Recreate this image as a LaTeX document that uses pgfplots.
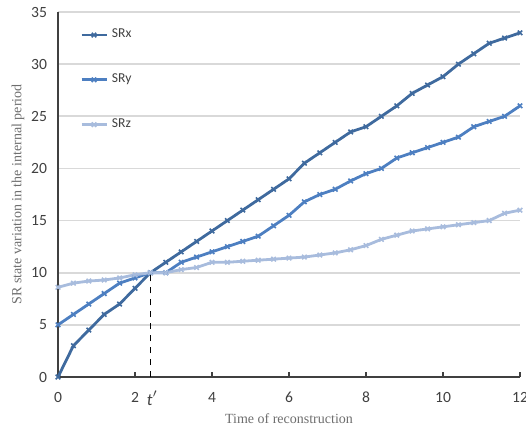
\documentclass[border=0pt]{standalone}
\usepackage{fontspec}
\setmainfont{Liberation Serif}
\newfontfamily\calibri{Carlito}
\usepackage{pgfplots}
\pgfplotsset{compat=1.18}
\definecolor{srx}{HTML}{3F6A9E}
\definecolor{sry}{HTML}{4D7FC1}
\definecolor{srz}{HTML}{A8BCDD}
\definecolor{axisgray}{HTML}{404040}
\definecolor{gridgray}{HTML}{D9D9D9}
\definecolor{labelgray}{HTML}{6E6E6E}
\definecolor{tickgray}{HTML}{404040}
\begin{document}
\begin{tikzpicture}
\begin{axis}[
  name=ax,
  scale only axis,
  width=231bp, height=182.5bp,
  xmin=0, xmax=12, ymin=0, ymax=35,
  xtick={0,2,4,6,8,10,12},
  ytick={0,5,...,35},
  extra x ticks={2.45},
  extra x tick labels={\fontsize{8.5bp}{9bp}\selectfont\textit{t}$'$},
  extra x tick style={major tick length=0pt, grid=none,
    xticklabel style={yshift=0.5bp}},
  axis x line*=bottom, axis y line*=left,
  axis line style={axisgray, line width=0.7bp, -},
  tick align=inside,
  x tick style={axisgray, line width=0.6bp},
  major tick length=2.5bp,
  y tick style={draw=none},
  ymajorgrids=true,
  grid style={gridgray, line width=0.8bp},
  /pgf/number format/assume math mode=true,
  tick label style={font=\calibri\fontsize{7.8bp}{9bp}\selectfont, text=tickgray},
  xticklabel style={yshift=-4bp},
  yticklabel style={xshift=-2bp},
  xlabel={Time of reconstruction},
  ylabel={SR state variation in the internal period},
  label style={font=\fontsize{7bp}{8bp}\selectfont, text=labelgray},
  x label style={at={(axis description cs:0.5,0)}, anchor=center, yshift=-21bp},
  y label style={at={(axis description cs:0,0.5)}, anchor=center, rotate=0, yshift=20bp},
  clip=false,
  legend cell align=left,
  legend style={draw=none, fill=none,
    at={(axis description cs:0.047,0.965)}, anchor=north west,
    font=\calibri\fontsize{6.8bp}{7bp}\selectfont, text=tickgray,
    row sep=12.5bp, inner sep=0pt},
  legend image code/.code={\draw[mark repeat=2,mark phase=2] plot coordinates {(0bp,0bp) (6.25bp,0bp) (12.5bp,0bp)};},
  every axis plot/.append style={line width=1.4bp, mark=x, mark size=1.6bp, mark options={solid, line width=0.8bp}},
]
\addplot[color=srx] coordinates {
(0,0) (0.4,3) (0.8,4.5) (1.2,6) (1.6,7) (2.0,8.5) (2.4,10) (2.8,11) (3.2,12)
(3.6,13) (4.0,14) (4.4,15) (4.8,16) (5.2,17) (5.6,18) (6.0,19) (6.4,20.5)
(6.8,21.5) (7.2,22.5) (7.6,23.5) (8.0,24) (8.4,25) (8.8,26) (9.2,27.2) (9.6,28)
(10.0,28.8) (10.4,30) (10.8,31) (11.2,32) (11.6,32.5) (12,33)
};
\addlegendentry{SRx}
\addplot[color=sry] coordinates {
(0,5) (0.4,6) (0.8,7) (1.2,8) (1.6,9) (2.0,9.5) (2.4,10) (2.8,10) (3.2,11)
(3.6,11.5) (4.0,12) (4.4,12.5) (4.8,13) (5.2,13.5) (5.6,14.5) (6.0,15.5) (6.4,16.8)
(6.8,17.5) (7.2,18) (7.6,18.8) (8.0,19.5) (8.4,20) (8.8,21) (9.2,21.5) (9.6,22)
(10.0,22.5) (10.4,23) (10.8,24) (11.2,24.5) (11.6,25) (12,26)
};
\addlegendentry{SRy}
\addplot[color=srz] coordinates {
(0,8.6) (0.4,9) (0.8,9.2) (1.2,9.3) (1.6,9.5) (2.0,9.8) (2.4,10) (2.8,10) (3.2,10.3)
(3.6,10.5) (4.0,11) (4.4,11) (4.8,11.1) (5.2,11.2) (5.6,11.3) (6.0,11.4) (6.4,11.5)
(6.8,11.7) (7.2,11.9) (7.6,12.2) (8.0,12.6) (8.4,13.2) (8.8,13.6) (9.2,14) (9.6,14.2)
(10.0,14.4) (10.4,14.6) (10.8,14.8) (11.2,15) (11.6,15.7) (12,16)
};
\addlegendentry{SRz}
\addplot[black, dashed, line width=0.6bp, mark=none, forget plot] coordinates {(2.4,0) (2.4,10)};
\end{axis}
\pgfresetboundingbox
\path ([shift={(-29bp,-28bp)}]ax.south west) rectangle ([shift={(3bp,6bp)}]ax.north east);
\end{tikzpicture}
\end{document}
